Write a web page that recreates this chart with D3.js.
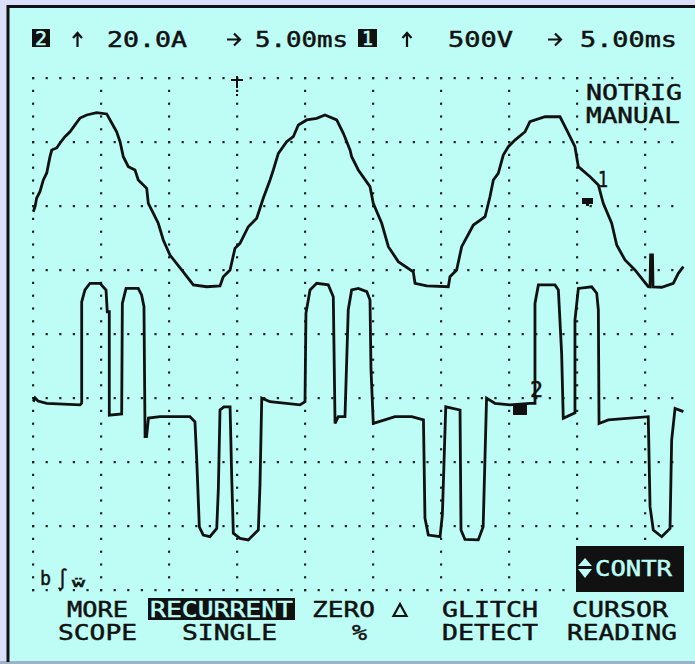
<!DOCTYPE html>
<html><head><meta charset="utf-8">
<script src="https://cdn.jsdelivr.net/npm/d3@7"></script>
<style>html,body{margin:0;padding:0;background:#dcdffa;}svg{display:block;}</style>
</head><body>
<script>
// ---- data (time in ms, channel 1 in volts, channel 2 in amps) ----
const ch1Time = [0.02,0.15,0.27,0.51,0.76,1.01,1.25,1.38,1.74,1.99,2.35,2.72,3.09,3.46,3.95,4.68,5.42,5.79,6.15,6.40,6.64,7.01,7.50,7.74,8.36,8.48,8.85,9.21,9.58,10.07,10.93,11.79,12.77,13.75,13.99,14.49,14.85,15.22,15.83,16.45,16.93,17.43,17.67,18.04,18.65,19.14,19.51,20.13,20.86,21.47,22.33,22.82,23.31,23.43,23.92,24.78,25.02,25.64,26.13,26.86,27.96,28.09,28.95,30.54,30.66,31.15,31.52,32.38,33.24,33.60,33.85,34.21,34.58,34.95,35.44,36.18,36.54,37.65,38.75,39.24,39.85,40.10,40.96,41.57,41.93,42.55,42.92,43.53,44.26,45.24,45.37,45.41,45.55,45.59,46.23,47.08,47.45,47.82];
const ch1Volts = [-76,-37,31,80,172,227,354,406,422,461,510,549,602,656,680,698,688,617,549,471,354,276,250,172,107,-10,-88,-166,-297,-414,-531,-648,-662,-656,-584,-531,-362,-323,-193,-127,29,172,250,380,471,510,602,641,654,680,641,537,406,354,250,120,-10,-166,-349,-466,-545,-635,-656,-662,-584,-531,-349,-180,-115,41,172,224,367,432,484,549,627,666,666,563,432,276,198,133,-10,-166,-336,-453,-531,-662,-664,-414,-414,-664,-666,-635,-557,-505];
const ch2Time = [0.02,0.15,0.37,1.01,3.46,3.58,3.58,3.82,4.19,4.93,5.37,5.46,5.61,5.61,6.52,6.57,6.84,7.74,7.99,8.16,8.24,8.35,8.49,9.34,11.54,11.91,12.04,12.23,12.52,13.01,13.51,13.63,13.75,14.04,14.49,14.61,14.73,15.22,15.83,16.57,16.69,16.82,17.43,19.63,20.00,20.07,20.37,20.86,21.71,22.08,22.21,22.45,22.94,23.18,23.43,23.92,24.54,24.78,24.85,25.02,25.39,26.62,27.85,28.71,28.82,29.07,29.93,30.10,30.35,31.40,31.47,31.76,32.74,33.10,33.35,33.96,35.07,36.54,36.91,36.91,37.16,38.38,38.63,38.87,38.99,39.85,39.85,40.10,41.08,41.45,41.57,41.62,42.30,45.24,45.37,45.61,46.23,46.84,46.96,47.21,47.82];
const ch2Amps = [2.6,3.75,2.8,2.1,1.6,2.1,33.8,37.5,39.6,39.6,37.5,30.7,30.7,-1.6,-1.25,33.3,38.0,38.0,35.9,32.3,-8.3,-8.3,-2.5,-2.1,-2.1,-3.7,-15.6,-36.5,-39.1,-39.6,-37.0,-24.5,0,1.0,1.0,-20.8,-38.5,-40.1,-40.6,-37.5,-23.4,3.7,2.6,1.6,2.6,30.2,37.5,39.6,39.1,35.4,-4.2,-2.1,-2.1,31.3,37.5,38.0,37.0,34.4,13.0,-4.2,-3.7,-2.1,-2.1,-3.1,-33.8,-39.1,-39.6,-32.8,1.0,0,-37.5,-40.4,-40.6,-36.5,3.7,2.1,1.6,2.1,2.1,33.3,39.1,39.1,37.5,17.7,-2.6,-0.9,28.1,38.0,38.5,36.5,31.3,-4.2,-3.1,-2.1,-30.2,-37.5,-39.6,-37.0,-9.4,0.5,-0.5];
const gridTimeLines = [0,5,10,15,20,25,30,35,40,45];       // ms, vertical dotted lines
const gridDivLines  = [4,3,2,1,0,-1,-2,-3,-4];             // divisions, horizontal dotted lines
const headerLabels = ["20.0A","5.00ms","500V","5.00ms"];
const menuTop = ["MORE","RECURRENT","ZERO","GLITCH","CURSOR"];
const menuBottom = ["SCOPE","SINGLE","%","DETECT","READING"];
const statusLabels = ["NOTRIG","MANUAL"];

// ---- layout ----
const W = 695, H = 664;
const CYAN = "#bdfdf5", INK = "#111";
const x = d3.scaleLinear().domain([0, 50]).range([33, 713]);
const yDiv = d3.scaleLinear().domain([4, -4]).range([78, 590]);
const y1 = d3.scaleLinear().domain([0, 500]).range([202, 138]);
const y2 = d3.scaleLinear().domain([0, 20]).range([410, 346]);

const svg = d3.select("body").append("svg").attr("width", W).attr("height", H);
svg.append("rect").attr("width", W).attr("height", H).attr("fill", "#dcdffa");
svg.append("rect").attr("x", 8).attr("y", 6).attr("width", W - 8).attr("height", 655).attr("fill", CYAN);
svg.append("rect").attr("x", 0).attr("y", 661).attr("width", W).attr("height", 3).attr("fill", "#9fb3c8");
svg.append("line").attr("x1", 8).attr("x2", 8).attr("y1", 5).attr("y2", 662).attr("stroke", "#111").attr("stroke-width", 3);
svg.append("line").attr("x1", 7).attr("x2", W).attr("y1", 6.5).attr("y2", 6.5).attr("stroke", "#111").attr("stroke-width", 3);

// ---- grid dots ----
const g = svg.append("g").attr("fill", "#222");
const hDots = d3.range(0, 47.5, 1);
gridDivLines.forEach(d => {
  hDots.forEach(t => g.append("rect").attr("x", x(t) - 1).attr("y", yDiv(d) - 1).attr("width", 2.2).attr("height", 2.2));
});
const vDots = d3.range(-4, 4.01, 0.2);
gridTimeLines.forEach(t => {
  vDots.forEach(d => g.append("rect").attr("x", x(t) - 1).attr("y", yDiv(d) - 1).attr("width", 2.2).attr("height", 2.2));
});

// trigger marker
const tx = x(15);
svg.append("path").attr("d", `M${tx-6},${yDiv(4)+2}H${tx+6}M${tx},${yDiv(4)-2}V${yDiv(4)+10}`).attr("stroke", INK).attr("stroke-width", 2).attr("fill", "none");
svg.append("path").attr("d", `M${tx},${yDiv(4)+12}V${yDiv(4)+19}`).attr("stroke", INK).attr("stroke-width", 2).attr("stroke-dasharray", "2,2");

// ---- traces ----
const line1 = d3.line().x((d, i) => x(ch1Time[i])).y((d, i) => y1(ch1Volts[i]));
const line2 = d3.line().x((d, i) => x(ch2Time[i])).y((d, i) => y2(ch2Amps[i]));
svg.append("path").attr("d", line1(ch1Time)).attr("fill", "none").attr("stroke", INK).attr("stroke-width", 2.8).attr("stroke-linejoin", "miter");
svg.append("path").attr("d", line2(ch2Time)).attr("fill", "none").attr("stroke", INK).attr("stroke-width", 2.8).attr("stroke-linejoin", "miter");

// ground markers
svg.append("rect").attr("x", 582).attr("y", y1(0) - 4).attr("width", 11).attr("height", 6).attr("fill", INK);
svg.append("rect").attr("x", 586).attr("y", y1(0) + 1).attr("width", 3).attr("height", 3).attr("fill", INK);
svg.append("rect").attr("x", 513).attr("y", y2(0) - 5).attr("width", 14).attr("height", 10).attr("fill", INK);

const font = "DejaVu Sans Mono";
function txt(s, x0, x1, base, size, color) {
  const c = color || INK;
  return svg.append("text").attr("x", x0).attr("y", base).attr("textLength", x1 - x0).attr("lengthAdjust", "spacingAndGlyphs")
    .attr("font-family", font).attr("font-size", size).attr("fill", c)
    .attr("stroke", c).attr("stroke-width", 0.5).text(s);
}
txt("1", 598, 608, 187, 21);
txt("2", 530, 543, 397, 21);

// ---- header ----
function box(x0, y0, w, h) { svg.append("rect").attr("x", x0).attr("y", y0).attr("width", w).attr("height", h).attr("fill", INK); }
box(32, 29, 18, 18); txt("2", 35, 47, 45, 19, CYAN);
box(358, 29, 19, 18); txt("1", 362, 373, 45, 19, CYAN);
function upArrow(cx) {
  svg.append("path").attr("d", `M${cx},47V33M${cx-4.5},38L${cx},33L${cx+4.5},38`).attr("stroke", INK).attr("stroke-width", 2.2).attr("fill", "none");
}
function rightArrow(x0) {
  svg.append("path").attr("d", `M${x0},39.5H${x0+13}M${x0+7},33.5L${x0+13},39.5L${x0+7},45.5`).attr("stroke", INK).attr("stroke-width", 2.2).attr("fill", "none");
}
upArrow(77.5); upArrow(407);
rightArrow(227); rightArrow(548);
txt(headerLabels[0], 107, 187, 47, 21);
txt(headerLabels[1], 255, 348, 47, 21);
txt(headerLabels[2], 448, 513, 47, 21);
txt(headerLabels[3], 580, 677, 47, 21);
txt(statusLabels[0], 586, 682, 100, 22);
txt(statusLabels[1], 586, 680, 123, 22);

// ---- bottom-left symbol ----
txt("b", 40, 51, 585, 20);
txt("∫", 57, 68, 586, 20);
txt("ẅ", 72, 85, 587, 13);

// ---- CONTR box ----
box(576, 546, 108, 46);
svg.append("path").attr("d", "M585,558L592,566H578ZM578,569H592L585,578Z").attr("fill", CYAN);
txt("CONTR", 595, 672, 576, 21, CYAN);

// ---- menu ----
box(148, 598, 147, 22);
txt(menuTop[0], 67, 128, 617, 22);
txt(menuTop[1], 150, 293, 617, 22, CYAN);
txt(menuTop[2], 312, 375, 617, 22);
svg.append("path").attr("d", "M400,604L406.5,616H393.5Z").attr("fill", "none").attr("stroke", INK).attr("stroke-width", 2.2);
txt(menuTop[3], 442, 538, 617, 22);
txt(menuTop[4], 572, 668, 617, 22);
txt(menuBottom[0], 58, 137, 640, 22);
txt(menuBottom[1], 182, 277, 640, 22);
txt(menuBottom[2], 352, 367, 640, 22);
txt(menuBottom[3], 442, 538, 640, 22);
txt(menuBottom[4], 567, 677, 640, 22);
</script>
</body></html>
